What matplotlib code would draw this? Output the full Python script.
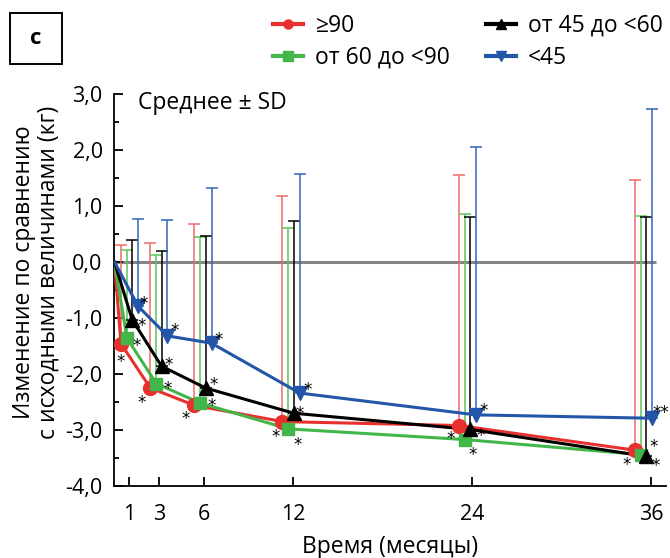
import numpy as np
import matplotlib
matplotlib.use("Agg")
import matplotlib.pyplot as plt
from matplotlib.lines import Line2D
from matplotlib.patches import Rectangle

plt.rcParams['font.family'] = ['Open Sans', 'DejaVu Sans']

# ---- data ----
months = [0, 1, 3, 6, 12, 24, 36]
tick_labels = ["1", "3", "6", "12", "24", "36"]
series_names = ["\u226590", "от 60 до <90", "от 45 до <60", "<45"]

mean_ge90 = [0, -1.46, -2.25, -2.56, -2.85, -2.92, -3.36]
sd_ge90 = [0, 1.76, 2.59, 3.23, 4.03, 4.48, 4.83]

mean_60_90 = [0, -1.36, -2.17, -2.52, -2.98, -3.17, -3.44]
sd_60_90 = [0, 1.57, 2.29, 2.96, 3.59, 4.03, 4.27]

mean_45_60 = [0, -1.03, -1.86, -2.25, -2.70, -2.99, -3.47]
sd_45_60 = [0, 1.42, 2.06, 2.72, 3.44, 3.79, 4.27]

mean_lt45 = [0, -0.79, -1.32, -1.45, -2.34, -2.73, -2.79]
sd_lt45 = [0, 1.56, 2.07, 2.78, 3.91, 4.78, 5.52]

stars_ge90 = ["*"] * 6
stars_60_90 = ["*"] * 6
stars_45_60 = ["*"] * 6
stars_lt45 = ["*"] * 5 + ["**"]

# ---- styles ----
styles = [
    dict(color="#e8302e", ecolor="#f06a6a", marker="o", ms=10, off=-0.55,
         star=[(0, 13), (-9, 10), (-9, 9), (-7, 10), (-8, 8), (-8, 10)]),
    dict(color="#43b649", ecolor="#5cc25c", marker="s", ms=9, off=-0.15,
         star=[(10, 3), (11, 0), (11, -2), (9, 11), (8, 10), (13, -13)]),
    dict(color="#000000", ecolor="#000000", marker="^", ms=9.5, off=0.2,
         star=[(9, 1), (7, -6), (8, -8), (6, -4), (11, 2), (10, 5)]),
    dict(color="#2356a8", ecolor="#2f66b8", marker="v", ms=10.5, off=0.6,
         star=[(6, -7), (7, -10), (7, -8), (8, -8), (8, -9), (9, -10)]),
]
means = [mean_ge90, mean_60_90, mean_45_60, mean_lt45]
sds = [sd_ge90, sd_60_90, sd_45_60, sd_lt45]
stars = [stars_ge90, stars_60_90, stars_45_60, stars_lt45]

W, H = 670, 558
fig = plt.figure(figsize=(W / 100, H / 100), dpi=100)
ax_l, ax_r, ax_b, ax_t = 114.5, 666, 486, 94
ax = fig.add_axes([ax_l / W, 1 - ax_b / H, (ax_r - ax_l) / W, (ax_b - ax_t) / H])

m = np.array(months, dtype=float)
ax.hlines(0, 0, 36.3, color="#858585", lw=2.2, zorder=1)

xs_all = []
for i in range(4):
    st = styles[i]
    x = m * 0.985 + st["off"]
    x[0] = 0.0
    xs_all.append(x)
    y = np.array(means[i])
    sd = np.array(sds[i])
    ax.errorbar(x[1:], y[1:], yerr=[np.zeros(6), sd[1:]], fmt="none",
                ecolor=st["ecolor"], elinewidth=1.1, capsize=4.3,
                capthick=1.1, zorder=2)

for i in range(4):
    st = styles[i]
    x = xs_all[i]
    y = np.array(means[i])
    ax.plot(x, y, color=st["color"], lw=2.2, zorder=3 + i * 0.1)
    ax.plot(x[1:], y[1:], linestyle="none", marker=st["marker"], ms=st["ms"],
            color=st["color"], mec=st["color"], zorder=4 + i * 0.1)
    for j in range(6):
        dx, dy = st["star"][j]
        ax.annotate(stars[i][j], (x[j + 1], y[j + 1]), xytext=(dx, -dy - 5),
                    textcoords="offset pixels", ha="center", va="center",
                    fontsize=12, color="black", zorder=6,
                    annotation_clip=False, family="DejaVu Sans")

ax.set_xlim(0, 37.0)
ax.set_ylim(-4, 3)
ax.set_xticks(months[1:])
ax.set_xticklabels(tick_labels)
ax.set_yticks(np.arange(-4, 3.01, 1.0))
ax.set_yticklabels([f"{v:.1f}".replace(".", ",") for v in np.arange(-4, 3.01, 1.0)])
ax.set_yticks(np.arange(-3.5, 3.0, 1.0), minor=True)
ax.tick_params(axis="both", direction="in", width=1.3, length=6.5, labelsize=15.5)
ax.tick_params(axis="y", which="minor", direction="in", width=1.3, length=3.5)
ax.tick_params(axis="y", pad=8.5)
ax.tick_params(axis="x", pad=13)
for s in ["top", "right"]:
    ax.spines[s].set_visible(False)
for s in ["left", "bottom"]:
    ax.spines[s].set_linewidth(1.3)

ax.set_xlabel("Время (месяцы)", fontsize=16.5, labelpad=7)
fig.text(36 / W, 1 - 272 / H, "Изменение по сравнению\nс исходными величинами (кг)",
         rotation=90, ha="center", va="center", fontsize=16.5,
         multialignment="center", linespacing=1.05)

ax.text(138 / W, 1 - 103 / H, "Среднее \u00b1 SD", transform=fig.transFigure,
        fontsize=16.5, ha="left", va="center")

# panel label
fig.patches.append(Rectangle((10 / W, 1 - 64 / H), 52 / W, 51 / H,
                             transform=fig.transFigure, fill=False,
                             lw=1.4, ec="black"))
fig.text(36 / W, 1 - 39 / H, "c", fontsize=16, fontweight="bold",
         ha="center", va="center")

handles = []
for i in range(4):
    st = styles[i]
    handles.append(Line2D([], [], color=st["color"], lw=3, marker=st["marker"],
                          ms=6.5, mec=st["color"]))
fig.legend(handles, series_names, loc="upper left",
           bbox_to_anchor=(273 / W, 1 - 14 / H), ncol=2, frameon=False,
           fontsize=16.5, handlelength=1.3, handletextpad=0.55,
           columnspacing=1.55, labelspacing=0.35, borderpad=0, borderaxespad=0)

fig.savefig("out.png", dpi=100)
